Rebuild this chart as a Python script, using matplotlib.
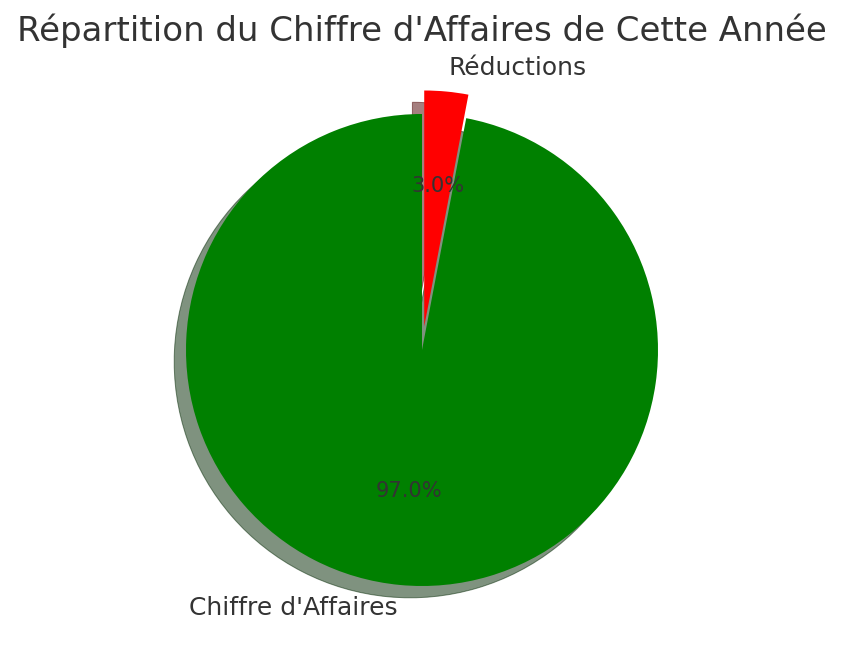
import matplotlib
matplotlib.use("Agg")
import matplotlib.pyplot as plt

labels = ["Chiffre d'Affaires", "Réductions"]
values = [97, 3]
colors = ["green", "red"]
explode = [0, 0.1]
title = "Répartition du Chiffre d'Affaires de Cette Année"

W, H, DPI = 844, 661, 180
TXT = '#333333'
fig = plt.figure(figsize=(W / DPI, H / DPI), dpi=DPI)

# pie centre (422, 350) px, radius 236 px; limits +-1.25
R = 236
cx, cy = 422, 350
half = 1.25 * R
ax = fig.add_axes([(cx - half) / W, (H - cy - half) / H, 2 * half / W, 2 * half / H])
ax.pie(values, labels=labels, colors=colors, explode=explode, autopct='%1.1f%%',
       shadow={'ox': -0.02, 'oy': -0.02, 'linewidth': 0.4}, startangle=90,
       textprops={'fontsize': 10, 'color': TXT})
for t in ax.texts:
    if t.get_text().endswith('%'):
        t.set_fontsize(8.4)
ax.set_xlim(-1.25, 1.25)
ax.set_ylim(-1.25, 1.25)
ax.set_aspect('auto')

fig.text(0.5, 1 - 31 / H, title, ha='center', va='center', fontsize=13.6, color=TXT)
fig.savefig("out.png", dpi=DPI)
